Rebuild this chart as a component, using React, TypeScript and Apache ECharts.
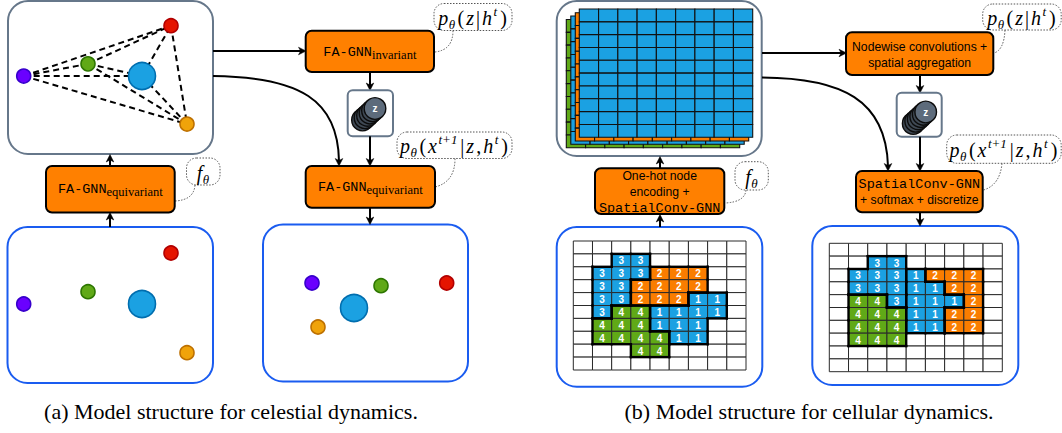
import React, { useEffect, useRef } from "react";
import * as echarts from "echarts";

// ---------------- data ----------------
const bodyNames = ["violet", "green", "blue", "red", "orange"];
const bodyMass = [1, 1, 5, 1, 1];
// positions at time t (box-relative units)
const posTX = [15.7, 80, 134, 163, 179];
const posTY = [77, 64.7, 77, 26, 125.7];
// positions at time t+1
const posNextX = [49, 118, 91, 183.7, 55];
const posNextY = [56, 58.7, 81, 56, 100];

// cellular automaton states (0 = empty), 10 rows x 9 cols
const cellsT: number[][] = [
  [0, 0, 0, 0, 0, 0, 0, 0, 0],
  [0, 0, 3, 3, 0, 0, 0, 0, 0],
  [0, 3, 3, 3, 2, 2, 2, 0, 0],
  [0, 3, 3, 2, 2, 2, 2, 0, 0],
  [0, 3, 3, 2, 2, 2, 1, 1, 0],
  [0, 3, 4, 4, 1, 1, 1, 1, 0],
  [0, 4, 4, 4, 1, 1, 1, 0, 0],
  [0, 4, 4, 4, 4, 1, 1, 0, 0],
  [0, 0, 0, 4, 4, 0, 0, 0, 0],
  [0, 0, 0, 0, 0, 0, 0, 0, 0],
];
const cellsNext: number[][] = [
  [0, 0, 0, 0, 0, 0, 0, 0, 0],
  [0, 0, 3, 3, 0, 0, 0, 0, 0],
  [0, 3, 3, 3, 1, 2, 2, 2, 0],
  [0, 3, 3, 3, 1, 1, 2, 2, 0],
  [0, 4, 4, 3, 1, 1, 1, 2, 0],
  [0, 4, 4, 4, 1, 1, 2, 2, 0],
  [0, 4, 4, 4, 1, 1, 2, 2, 0],
  [0, 4, 4, 4, 0, 0, 0, 0, 0],
  [0, 0, 0, 0, 0, 0, 0, 0, 0],
  [0, 0, 0, 0, 0, 0, 0, 0, 0],
];
// one-hot channel stack, back to front
const channelLabels = [4, 3, 2, 1];
const captions = [
  "(a) Model structure for celestial dynamics.",
  "(b) Model structure for cellular dynamics.",
];

// ---------------- styles ----------------
const W = 1062;
const H = 433;
const MONO = "'Liberation Mono','DejaVu Sans Mono',monospace";
const SANS = "'Liberation Sans',Arial,sans-serif";
const SERIF = "'Liberation Serif','Times New Roman',serif";
const GRAY = "#66778a";
const BLUE_BOX = "#1a5cf0";
const ORANGE = "#ff8000";
const BODY_COLORS: Record<string, [string, string]> = {
  violet: ["#6a00ff", "#3700cc"],
  green: ["#60a917", "#2d7600"],
  blue: ["#1ba1e2", "#006eaf"],
  red: ["#e51400", "#b20000"],
  orange: ["#f0a30a", "#bd7000"],
};
const CELL_COLORS: Record<number, string> = {
  0: "#ffffff",
  1: "#1ba1e2",
  2: "#fa7d00",
  3: "#1ba1e2",
  4: "#60a917",
};
const STACK_OFFSETS = [
  [-13, 10.5],
  [-8.5, 7],
  [-4, 3.7],
  [0, 0],
];

// ---------------- graphic helpers ----------------
const G: any[] = [];

function rbox(x: number, y: number, w: number, h: number, r: number, stroke: string, lw: number, fill = "#fff", dash?: number[]) {
  G.push({
    type: "rect",
    shape: { x, y, width: w, height: h, r },
    style: { fill, stroke, lineWidth: lw, lineDash: dash },
  });
}

function head(tx: number, ty: number, dx: number, dy: number) {
  const L = 7.5;
  const Wd = 3.8;
  const bx = tx - dx * L;
  const by = ty - dy * L;
  const nx = -dy;
  const ny = dx;
  G.push({
    type: "polygon",
    shape: {
      points: [
        [tx, ty],
        [bx + nx * Wd, by + ny * Wd],
        [tx - dx * L * 0.72, ty - dy * L * 0.72],
        [bx - nx * Wd, by - ny * Wd],
      ],
    },
    style: { fill: "#000", stroke: "#000", lineWidth: 0.5 },
  });
}

function arrow(x1: number, y1: number, x2: number, y2: number) {
  const len = Math.hypot(x2 - x1, y2 - y1);
  const dx = (x2 - x1) / len;
  const dy = (y2 - y1) / len;
  G.push({
    type: "line",
    shape: { x1, y1, x2: x2 - dx * 5, y2: y2 - dy * 5 },
    style: { stroke: "#000", lineWidth: 2 },
  });
  head(x2, y2, dx, dy);
}

function curveArrow(x1: number, y1: number, c1x: number, c1y: number, c2x: number, c2y: number, x2: number, y2: number) {
  G.push({
    type: "bezierCurve",
    shape: { x1, y1, cpx1: c1x, cpy1: c1y, cpx2: c2x, cpy2: c2y, x2, y2: y2 - 5 },
    style: { stroke: "#000", lineWidth: 2, fill: "none" },
  });
  head(x2, y2, 0, 1);
}

const MATH_RICH = {
  i: { fontFamily: SERIF, fontStyle: "italic", fontSize: 20, lineHeight: 26, verticalAlign: "middle", padding: [0, 0.5, 0, 0.5] },
  n: { fontFamily: SERIF, fontSize: 20, lineHeight: 26, verticalAlign: "middle", padding: [0, 1.5, 0, 1.5] },
  sb: { fontFamily: SERIF, fontStyle: "italic", fontSize: 13, lineHeight: 13, verticalAlign: "bottom", padding: [0, 1, 0, 0] },
  sp: { fontFamily: SERIF, fontStyle: "italic", fontSize: 13, lineHeight: 14, verticalAlign: "top", padding: [0, 1.5, 0, 1] },
};

function bubble(x: number, y: number, w: number, h: number, text: string, fx: number, fy: number, cx: number, cy: number, tx: number, ty: number) {
  G.push({
    type: "bezierCurve",
    shape: { x1: fx, y1: fy, cpx1: cx, cpy1: cy, x2: tx, y2: ty },
    style: { stroke: "#555", lineWidth: 1, lineDash: [1.5, 1.5], fill: "none" },
  });
  rbox(x, y, w, h, 10, "#555", 1, "#fff", [1.5, 1.5]);
  G.push({
    type: "text",
    x: x + w / 2,
    y: y + h / 2 + 1,
    style: {
      text,
      rich: MATH_RICH,
      fill: "#000",
      align: "center",
      verticalAlign: "middle",
      textAlign: "center",
      textVerticalAlign: "middle",
    },
  });
}

const BOX_RICH = {
  m: { fontFamily: MONO, fontSize: 13.5, lineHeight: 16, verticalAlign: "top" },
  s: { fontFamily: SERIF, fontSize: 12.5, lineHeight: 12, verticalAlign: "bottom", padding: [7, 0, 0, 0] },
  mm: { fontFamily: MONO, fontSize: 13.5, lineHeight: 16.5 },
  t: { fontFamily: SANS, fontSize: 12.2, lineHeight: 16 },
};

function obox(x: number, y: number, w: number, h: number, text: string, ty: number) {
  rbox(x, y, w, h, 6, "#000", 2, ORANGE);
  G.push({
    type: "text",
    x: x + w / 2,
    y: ty,
    style: {
      text,
      rich: BOX_RICH,
      fill: "#000",
      align: "center",
      verticalAlign: "middle",
      textAlign: "center",
      textVerticalAlign: "middle",
    },
  });
}

function zStack(bx: number, by: number, bw: number, bh: number, cx: number, cy: number) {
  rbox(bx, by, bw, bh, 5, GRAY, 2, "#fff");
  for (let k = 5; k >= 0; k--) {
    G.push({
      type: "circle",
      shape: { cx: cx - 2.5 * k, cy: cy + 2.3 * k, r: 10.8 },
      style: { fill: k ? "#3f4954" : "#5d6b7b", stroke: "#0c0c0c", lineWidth: 1.4 },
    });
  }
  G.push({
    type: "text",
    x: cx,
    y: cy,
    style: {
      text: "z",
      fill: "#fff",
      fontFamily: SANS,
      fontWeight: "bold",
      fontSize: 10,
      align: "center",
      verticalAlign: "middle",
      textAlign: "center",
      textVerticalAlign: "middle",
    },
  });
}

const P_Z = "{i|p}{sb|θ}{n|(}{i|z}{n||}{i|h}{sp|t}{n|)}";
const P_X = "{i|p}{sb|θ}{n|(}{i|x}{sp|t+1}{n||}{i|z}{n|,}{i|h}{sp|t}{n|)}";
const F_T = "{i|f}{sb|θ}";

// ---- panel (a) ----
rbox(8, 1, 205, 153, 20, GRAY, 2);
rbox(7.5, 227, 205.5, 156, 20, BLUE_BOX, 2);
rbox(263, 224.5, 205, 157, 20, BLUE_BOX, 2);
arrow(213, 51, 306, 51);
curveArrow(213, 76, 300, 77, 338, 100, 339, 166);
bubble(434, 3.5, 78, 27, P_Z, 453, 30.5, 453, 50, 435, 52);
bubble(397, 132, 115, 26.5, P_X, 455, 158.5, 455, 182, 435, 187);
bubble(186.5, 158, 33.5, 27, F_T, 195, 185, 194, 200, 175, 201);
obox(305.7, 30.7, 128.3, 41.3, "{m|FA-GNN}{s|invariant}", 53);
arrow(370, 72, 370, 90.5);
zStack(347.7, 90.3, 45.3, 46, 375, 108.5);
arrow(370, 136.3, 370, 166);
obox(305.7, 166, 129.3, 41.7, "{m|FA-GNN}{s|equivariant}", 188.5);
arrow(370, 207.7, 370, 224.5);
obox(46, 166, 128.7, 46.5, "{m|FA-GNN}{s|equivariant}", 190.5);
arrow(110, 227, 110, 212.5);
arrow(110, 166, 110, 154.5);

// ---- panel (b) ----
rbox(556.7, 1, 205, 155, 20, GRAY, 2);
rbox(556.7, 227, 205.6, 159.7, 20, BLUE_BOX, 2);
rbox(812.3, 226, 206, 159, 20, BLUE_BOX, 2);
arrow(762, 53, 846.5, 53);
curveArrow(762, 77.5, 842, 78, 886, 100, 888, 171);
bubble(982.7, 4, 78.5, 26, P_Z, 1005, 30, 1004, 50, 994, 53);
bubble(946.7, 135, 114.5, 28.3, P_X, 1002, 163.3, 1000, 185, 983.5, 190);
bubble(735, 161.7, 33.3, 28.3, F_T, 746, 190, 745, 202, 725, 203);
obox(846, 32.3, 147.3, 42.7, "{t|Nodewise convolutions +}\n{t|spatial aggregation}", 54.5);
arrow(920, 75, 920, 93);
zStack(896.7, 92.7, 45, 44, 925.7, 112);
arrow(920, 136.7, 920, 171);
obox(856, 171, 126.7, 41.3, "{mm|SpatialConv-GNN}\n{t|+ softmax + discretize}", 192);
arrow(920, 212.3, 920, 226);
obox(595, 168.3, 129.3, 45.7, "{t|One-hot node}\n{t|encoding +}\n{mm|SpatialConv-GNN}", 192.6);
arrow(660, 227, 660, 214.5);
arrow(660, 168.3, 660, 156.5);

// captions
[231, 809].forEach((cx, i) => {
  G.push({
    type: "text",
    x: cx,
    y: 411,
    style: {
      text: captions[i],
      fill: "#000",
      fontFamily: SERIF,
      fontSize: 22,
      align: "center",
      verticalAlign: "middle",
      textAlign: "center",
      textVerticalAlign: "middle",
    },
  });
});

// ---------------- series builders ----------------
function bodyData(xs: number[], ys: number[]) {
  return bodyNames.map((name, i) => ({
    name,
    value: [xs[i], ys[i], bodyMass[i]],
    itemStyle: {
      color: BODY_COLORS[name][0],
      borderColor: BODY_COLORS[name][1],
      borderWidth: 1.6,
      opacity: 1,
    },
  }));
}

function bodySeries(gridIdx: number, xs: number[], ys: number[]) {
  return {
    type: "scatter",
    xAxisIndex: gridIdx,
    yAxisIndex: gridIdx,
    z: 4,
    silent: true,
    symbol: "circle",
    symbolSize: (v: number[]) => (v[2] > 1 ? 27 : 14),
    itemStyle: { opacity: 1 },
    data: bodyData(xs, ys),
  };
}

function edgeData() {
  const out: any[] = [];
  for (let i = 0; i < bodyNames.length; i++) {
    for (let j = i + 1; j < bodyNames.length; j++) {
      out.push({ coords: [[posTX[i], posTY[i]], [posTX[j], posTY[j]]] });
    }
  }
  return out;
}

function cellSeriesData(states: number[][]) {
  const d: number[][] = [];
  states.forEach((row, r) => row.forEach((lab, c) => d.push([c, r, lab])));
  return d;
}

function cellRenderer(states: number[][]) {
  const rows = states.length;
  const cols = states[0].length;
  const at = (r: number, c: number) => (r < 0 || c < 0 || r >= rows || c >= cols ? 0 : states[r][c]);
  return (_params: any, api: any) => {
    const c = api.value(0);
    const r = api.value(1);
    const lab = api.value(2);
    const p0 = api.coord([c, r]);
    const p1 = api.coord([c + 1, r + 1]);
    const x0 = p0[0], y0 = p0[1], x1 = p1[0], y1 = p1[1];
    const children: any[] = [
      {
        type: "rect",
        shape: { x: x0, y: y0, width: x1 - x0, height: y1 - y0 },
        style: { fill: CELL_COLORS[lab], stroke: "#2a2a2a", lineWidth: 1 },
        z2: 1,
      },
    ];
    if (lab) {
      children.push({
        type: "text",
        x: (x0 + x1) / 2,
        y: (y0 + y1) / 2 + 0.5,
        style: {
          text: String(lab),
          fill: "#fff",
          fontFamily: SANS,
          fontWeight: "bold",
          fontSize: 10,
          align: "center",
          verticalAlign: "middle",
          textAlign: "center",
          textVerticalAlign: "middle",
        },
        z2: 2,
      });
      const edges: number[][] = [];
      if (at(r - 1, c) !== lab) edges.push([x0, y0, x1, y0]);
      if (at(r + 1, c) !== lab) edges.push([x0, y1, x1, y1]);
      if (at(r, c - 1) !== lab) edges.push([x0, y0, x0, y1]);
      if (at(r, c + 1) !== lab) edges.push([x1, y0, x1, y1]);
      edges.forEach((e) =>
        children.push({
          type: "line",
          shape: { x1: e[0], y1: e[1], x2: e[2], y2: e[3] },
          style: { stroke: "#000", lineWidth: 2.4, lineCap: "square" },
          z2: 3,
        })
      );
    }
    return { type: "group", children };
  };
}

function stackData() {
  const d: number[][] = [];
  channelLabels.forEach((_lab, l) => {
    for (let r = 0; r < cellsT.length; r++) for (let c = 0; c < cellsT[0].length; c++) d.push([c, r, l]);
  });
  return d;
}

function stackRenderer(_params: any, api: any) {
  const c = api.value(0);
  const r = api.value(1);
  const l = api.value(2);
  const p0 = api.coord([c, r]);
  const p1 = api.coord([c + 1, r + 1]);
  const off = STACK_OFFSETS[l];
  return {
    type: "rect",
    shape: { x: p0[0] + off[0], y: p0[1] + off[1], width: p1[0] - p0[0], height: p1[1] - p0[1] },
    style: { fill: CELL_COLORS[channelLabels[l]], stroke: "#111", lineWidth: 1.1 },
    z2: l,
  };
}

function buildOption() {
  const grids = [
    { left: 8, top: -2, width: 205, height: 156 },
    { left: 8, top: 227, width: 205, height: 156 },
    { left: 263, top: 227, width: 205, height: 156 },
    { left: 579.3, top: 9, width: 173.4, height: 128.3 },
    { left: 573.3, top: 241, width: 172.7, height: 129 },
    { left: 829.3, top: 243.3, width: 173, height: 128.4 },
  ];
  const xAxis = grids.map((_g, i) => ({
    type: "value",
    gridIndex: i,
    min: 0,
    max: i < 3 ? 205 : 9,
    show: false,
    splitLine: { show: false },
  }));
  const yAxis = grids.map((_g, i) => ({
    type: "value",
    gridIndex: i,
    min: 0,
    max: i < 3 ? 156 : 10,
    inverse: true,
    show: false,
    splitLine: { show: false },
  }));
  return {
    animation: false,
    backgroundColor: "#ffffff",
    grid: grids.map((g) => ({ ...g, show: false })),
    xAxis,
    yAxis,
    graphic: { elements: G },
    series: [
      {
        type: "lines",
        coordinateSystem: "cartesian2d",
        xAxisIndex: 0,
        yAxisIndex: 0,
        z: 3,
        silent: true,
        symbol: "none",
        lineStyle: { color: "#000", width: 2, type: [6, 4], opacity: 1 },
        data: edgeData(),
      },
      bodySeries(0, posTX, posTY),
      bodySeries(1, posTX, posTY),
      bodySeries(2, posNextX, posNextY),
      {
        type: "custom",
        xAxisIndex: 3,
        yAxisIndex: 3,
        silent: true,
        renderItem: stackRenderer,
        data: stackData(),
      },
      {
        type: "custom",
        xAxisIndex: 4,
        yAxisIndex: 4,
        silent: true,
        renderItem: cellRenderer(cellsT),
        data: cellSeriesData(cellsT),
      },
      {
        type: "custom",
        xAxisIndex: 5,
        yAxisIndex: 5,
        silent: true,
        renderItem: cellRenderer(cellsNext),
        data: cellSeriesData(cellsNext),
      },
    ],
  };
}

export default function App() {
  const ref = useRef<HTMLDivElement>(null);
  useEffect(() => {
    const chart = echarts.init(ref.current as HTMLDivElement, null, { renderer: "svg", width: W, height: H });
    chart.setOption(buildOption() as any);
    return () => chart.dispose();
  }, []);
  return <div ref={ref} style={{ position: "absolute", left: 0, top: 0, width: W, height: H }} />;
}
